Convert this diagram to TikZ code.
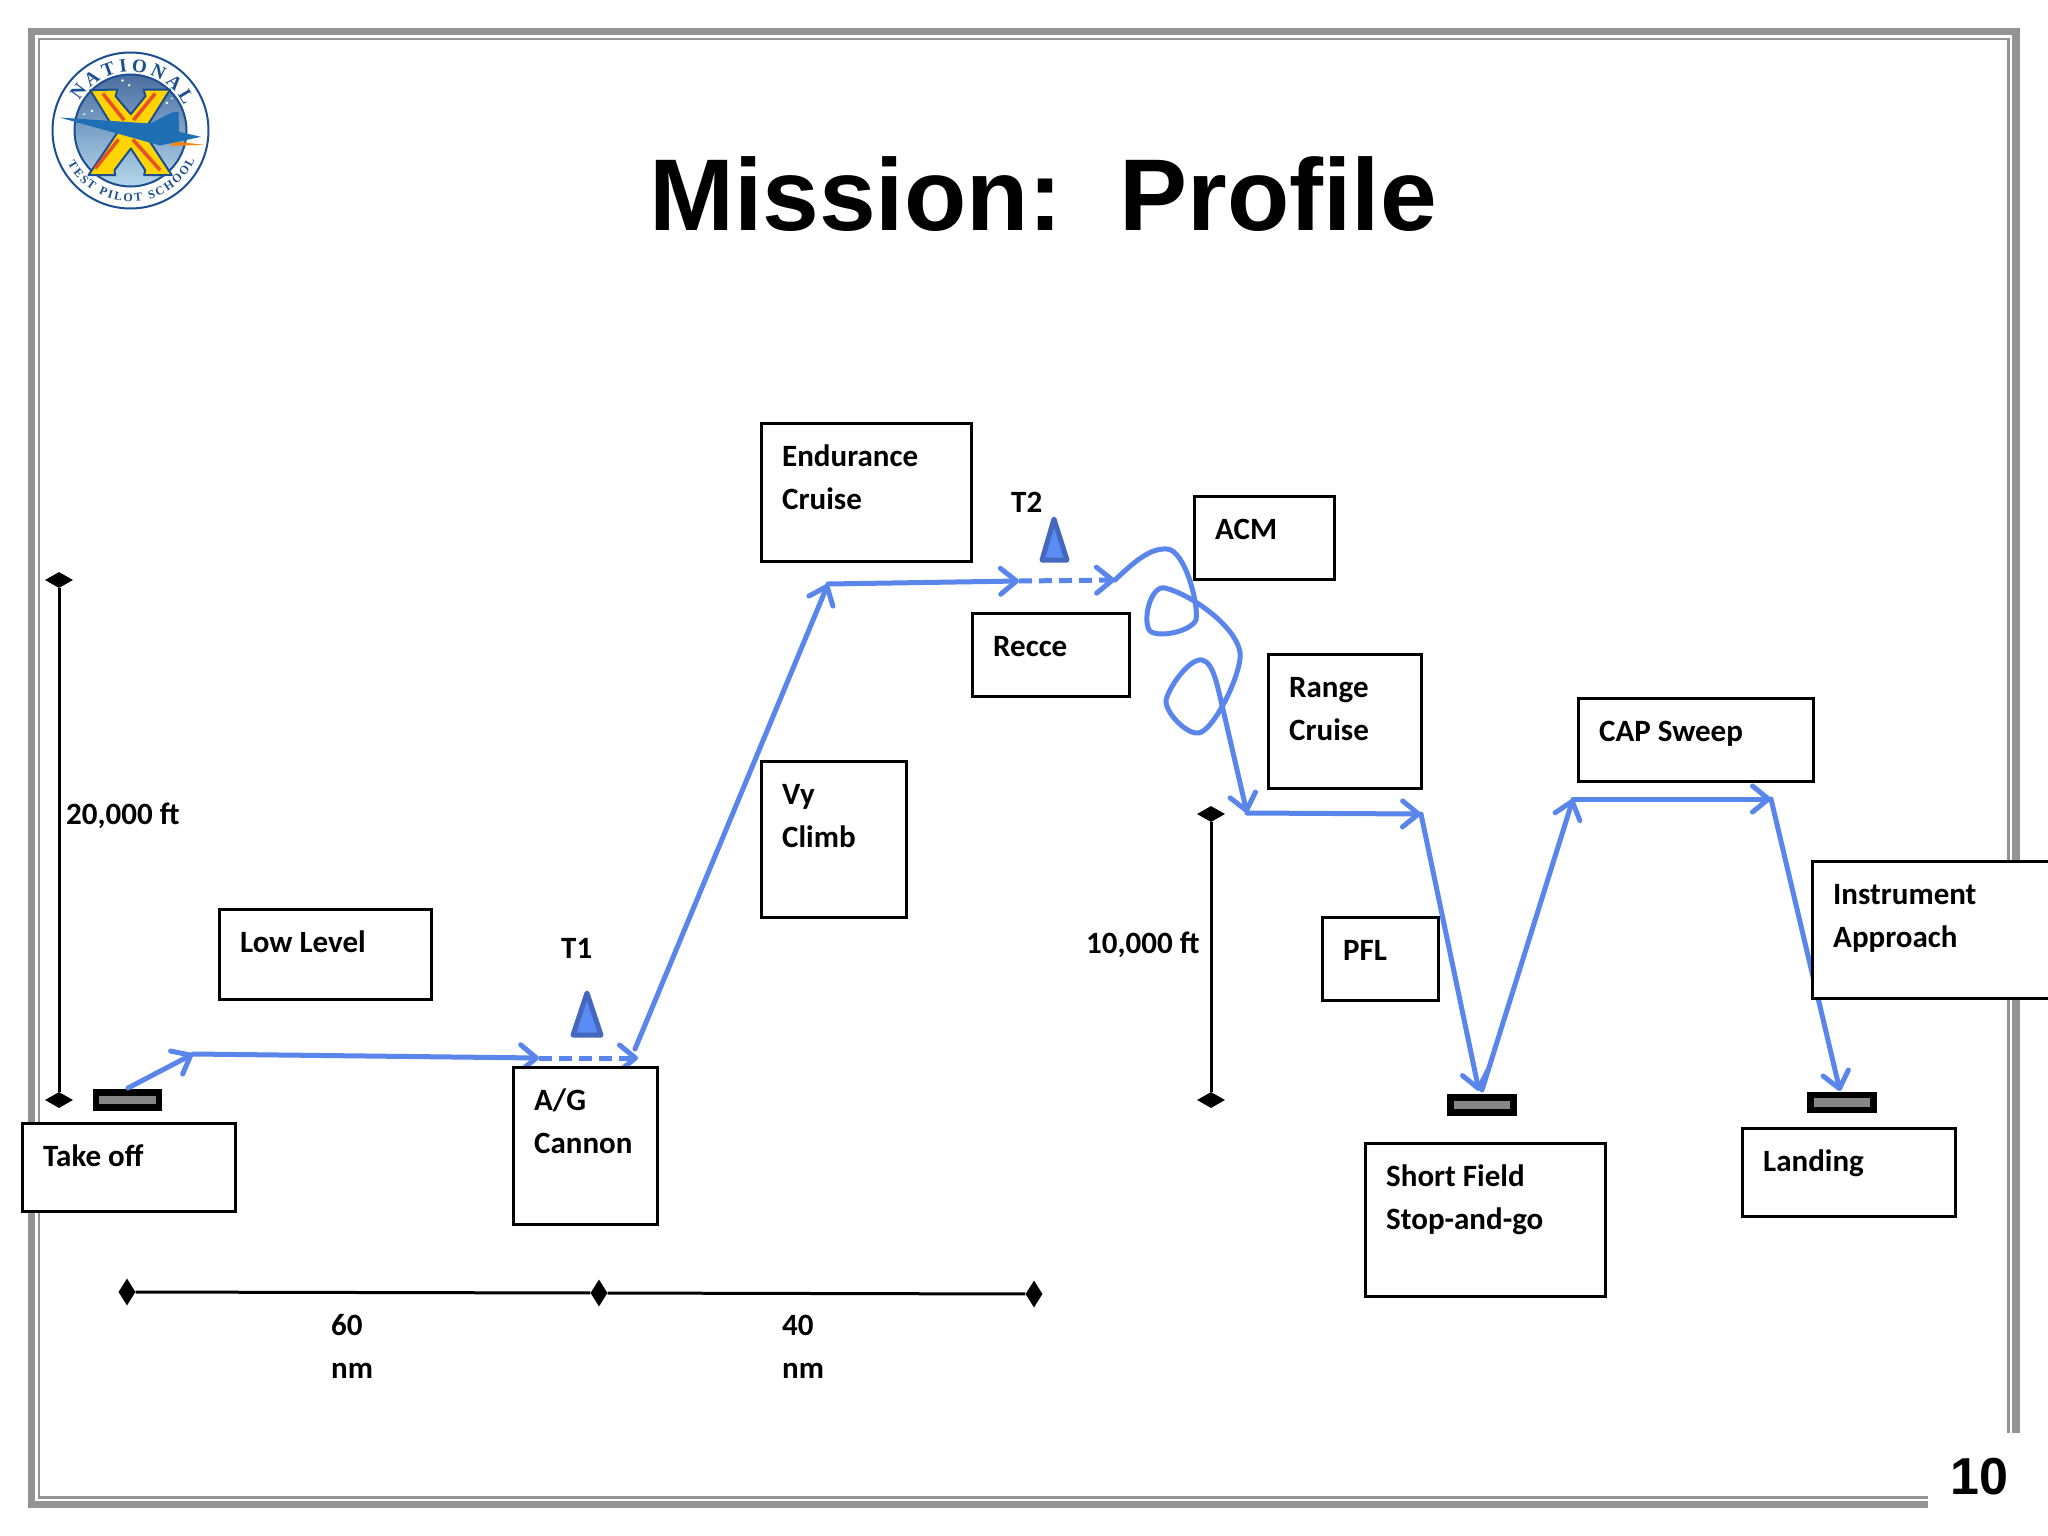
\documentclass[tikz,border=0pt]{standalone}
\usepackage{fontspec}
\setmainfont{Carlito}
\newfontfamily\titlefont{Liberation Sans}
\newfontfamily\logofont{Liberation Serif}
\usetikzlibrary{arrows.meta,shapes.geometric,decorations.text}
\definecolor{flight}{HTML}{5A86EC}
\definecolor{frameg}{HTML}{939393}
\definecolor{conefill}{HTML}{5B8CF5}
\definecolor{coneedge}{HTML}{4468BE}
\definecolor{navy}{HTML}{1B4F8F}
\definecolor{jet}{HTML}{1F6FB5}
\definecolor{skytop}{HTML}{4A6FA0}
\definecolor{skymid}{HTML}{7FA3C8}
\definecolor{skybot}{HTML}{B4D8EA}
\definecolor{xyellow}{HTML}{FFD400}
\definecolor{xred}{HTML}{E8502A}
\definecolor{rwgray}{HTML}{868686}
\tikzset{
  labelbox/.style={draw=black,line width=2.5pt,fill=white,inner sep=0pt,anchor=north west},
  boxtext/.style={inner sep=0pt,anchor=base west,font=\fontsize{31}{43}\selectfont\bfseries},
  leg/.style={draw=flight,line width=5pt,line cap=round},
  legarrow/.style={leg,-{Straight Barb[length=16pt,width=26pt,line width=5pt,round]}},
  legdash/.style={legarrow,dash pattern=on 13pt off 7pt,line cap=butt},
  runway/.style={draw=black,line width=6.5pt,fill=rwgray,inner sep=0pt,minimum width=63pt,minimum height=15pt},
  cone/.style={draw=coneedge,fill=conefill,line width=5pt,line join=round},
  scaleline/.style={draw=black,line width=3pt},
  tick/.style={diamond,fill=black,inner sep=0pt,aspect=1},
  vtick/.style={tick,minimum width=28pt,minimum height=16pt},
  htick/.style={tick,minimum width=17pt,minimum height=27pt},
  frameline/.style={draw=frameg},
}
\newcommand{\labelledbox}[6]{%
  \pgfmathsetmacro{\bxx}{#2-1}\pgfmathsetmacro{\byy}{#3-1}
  \node[labelbox,minimum width=#4pt,minimum height=#5pt] (#1) at (\bxx,\byy) {};
  \pgfmathsetmacro{\tx}{#2+21}\pgfmathsetmacro{\ty}{#3+43}\pgfmathsetmacro{\tw}{#4-26}
  \node[boxtext] (#1-text) at (\tx,\ty) {\parbox[t]{\tw pt}{\raggedright #6}};}
\begin{document}
\begin{tikzpicture}[x=1pt,y=-1pt]
\useasboundingbox (0,0) rectangle (2048,1536);
\fill[white] (0,0) rectangle (2048,1536);
% frame
\draw[frameline,line width=7.5pt] (1928,1504.5) -- (31.5,1504.5) -- (31.5,31.5) -- (2016,31.5) -- (2016,1433);
\draw[frameline,line width=2.5pt] (1928,1497.5) -- (39,1497.5) -- (39,39) -- (2008.5,39) -- (2008.5,1433);
% logo
\begin{scope}[shift={(130.5,130.5)},y=1pt]
  \fill[white] (0,0) circle (79);
  \draw[navy,line width=2pt] (0,0) circle (78);
  \shade[top color=skytop,bottom color=skybot,middle color=skymid] (0,0) circle (56);
  \draw[navy,line width=2pt] (0,0) circle (56);
  \begin{scope}[x=0.3333pt,y=-0.3333pt,shift={(-391,-391)}]
    \fill[white] (367,241) circle (4) (387,255) circle (4) (275,332) circle (4) (252,342) circle (3) (500,308) circle (4) (515,295) circle (3);
    \draw[navy,line width=2pt,fill=xyellow,line join=round] (270,270) -- (352,268) -- (346,288) -- (392,342) -- (436,288) -- (430,268) -- (510,268) -- (430,395) -- (505,510) -- (515,525) -- (432,525) -- (435,510) -- (392,445) -- (343,510) -- (345,525) -- (265,525) -- (275,510) -- (350,400) -- cycle;
    \draw[xred,line width=3.5pt] (308,280) -- (372,360) (465,280) -- (400,360) (355,418) -- (285,505) (398,418) -- (480,510);
    \fill[orange] (525,424) -- (612,434) -- (510,437) -- cycle;
    \fill[jet] (178,352) -- (450,370) -- (520,335) -- (535,335) -- (537,395) -- (603,410) -- (480,436) -- (380,408) -- cycle;
  \end{scope}
  \path[decorate,decoration={text along path,text align={fit to path},text={|\logofont\bfseries\fontsize{19}{19}\selectfont\color{navy}|NATIONAL}}] (150:59) arc[start angle=150,end angle=25,radius=59];
  \path[decorate,decoration={text along path,text align={fit to path},text={|\logofont\bfseries\fontsize{12}{12}\selectfont\color{navy}|TEST PILOT SCHOOL}}] (208:71) arc[start angle=208,end angle=335,radius=71];
\end{scope}
% title and page number
\node[inner sep=0pt,anchor=base west,font=\titlefont\bfseries\fontsize{102}{102}\selectfont] (title) at (649,230) {Mission:\ \ Profile};
\node[inner sep=0pt,anchor=base west,font=\titlefont\bfseries\fontsize{52}{52}\selectfont] (pagenum) at (1950,1494) {10};
% scale bars
\node[vtick] (alt20top) at (59,580) {};
\node[vtick] (alt20bot) at (59,1100) {};
\draw[scaleline] (alt20top) -- (alt20bot);
\node[vtick] (alt10top) at (1211,814) {};
\node[vtick] (alt10bot) at (1211,1100) {};
\draw[scaleline] (alt10top) -- (alt10bot);
\node[htick] (distA) at (127,1292) {};
\node[htick] (distB) at (599,1293) {};
\node[htick] (distC) at (1034,1294) {};
\draw[scaleline] (distA) -- (distB);
\draw[scaleline] (distB) -- (distC);
% runways
\node[runway] (rw1) at (127.5,1100) {};
\node[runway] (rw2) at (1482,1105) {};
\node[runway] (rw3) at (1842,1102.5) {};
% way points
\coordinate (p0) at (128,1088);
\coordinate (p1) at (193,1054);
\coordinate (p2) at (539,1058);
\coordinate (p3) at (638,1058);
\coordinate (p4) at (635,1049);
\coordinate (p5) at (828,584);
\coordinate (p6) at (1019,581);
\coordinate (p7) at (1115,580);
\coordinate (p8) at (1247,813);
\coordinate (p9) at (1421,814);
\coordinate (p10) at (1479,1091);
\coordinate (p11) at (1482,1090);
\coordinate (p12) at (1573,799);
\coordinate (p13) at (1771,799);
\coordinate (p14) at (1840,1091);
% flight path
\draw[legarrow] (p0) -- (p1);
\draw[legarrow] (p1) -- (p2);
\draw[legdash] (p2) -- (p3);
\draw[legarrow] (p4) -- (p5);
\draw[legarrow] (p5) -- (p6);
\draw[legdash] (p6) -- (p7);
\draw[leg,line join=round] (p7) .. controls (1135,561) and (1150,548) .. (1167,549)
  .. controls (1185,550) and (1199,605) .. (1196,620)
  .. controls (1190,632) and (1158,638) .. (1150,631)
  .. controls (1142,622) and (1150,585) .. (1165,588)
  .. controls (1190,594) and (1235,625) .. (1240,652)
  .. controls (1243,672) and (1212,735) .. (1197,733)
  .. controls (1185,733) and (1165,712) .. (1166,700)
  .. controls (1170,685) and (1190,658) .. (1202,660)
  .. controls (1214,662) and (1218,690) .. (1222,705);
\coordinate (p7b) at (1222,705);
\draw[legarrow] (p7b) -- (p8);
\draw[legarrow] (p8) -- (p9);
\draw[legarrow] (p9) -- (p10);
\draw[legarrow] (p11) -- (p12);
\draw[legarrow] (p12) -- (p13);
\draw[legarrow] (p13) -- (p14);
% threat cones
\draw[cone] (587,993) -- (601,1035) -- (573,1035) -- cycle;
\draw[cone] (1054,519) -- (1067,560) -- (1042,560) -- cycle;
% boxes
\labelledbox{endur}{761}{423}{210}{138}{Endurance\\Cruise}
\labelledbox{acm}{1194}{496}{140}{83}{ACM}
\labelledbox{recce}{972}{613}{157}{83}{Recce}
\labelledbox{range}{1268}{654}{153}{134}{Range\\Cruise}
\labelledbox{cap}{1578}{698}{235}{83}{CAP Sweep}
\labelledbox{instr}{1812}{861}{240}{137}{Instrument\\Approach}
\labelledbox{vy}{761}{761}{145}{156}{Vy\\Climb}
\labelledbox{low}{219}{909}{212}{90}{Low Level}
\labelledbox{pfl}{1322}{917}{116}{83}{PFL}
\labelledbox{ag}{513}{1067}{144}{157}{A/G\\Cannon}
\labelledbox{takeoff}{22}{1123}{213}{88}{Take off}
\labelledbox{short}{1365}{1143}{240}{153}{Short Field\\Stop-and-go}
\labelledbox{landing}{1742}{1128}{213}{88}{Landing}
% free labels
\node[boxtext] (alt20) at (66,824) {20,000 ft};
\node[boxtext] (alt10) at (1086,953) {10,000 ft};
\node[boxtext] (t1) at (561,958) {T1};
\node[boxtext] (t2) at (1011,512) {T2};
\node[boxtext] (d60) at (331,1335) {\parbox[t]{60pt}{60\\nm}};
\node[boxtext] (d40) at (782,1335) {\parbox[t]{60pt}{40\\nm}};
\end{tikzpicture}
\end{document}
